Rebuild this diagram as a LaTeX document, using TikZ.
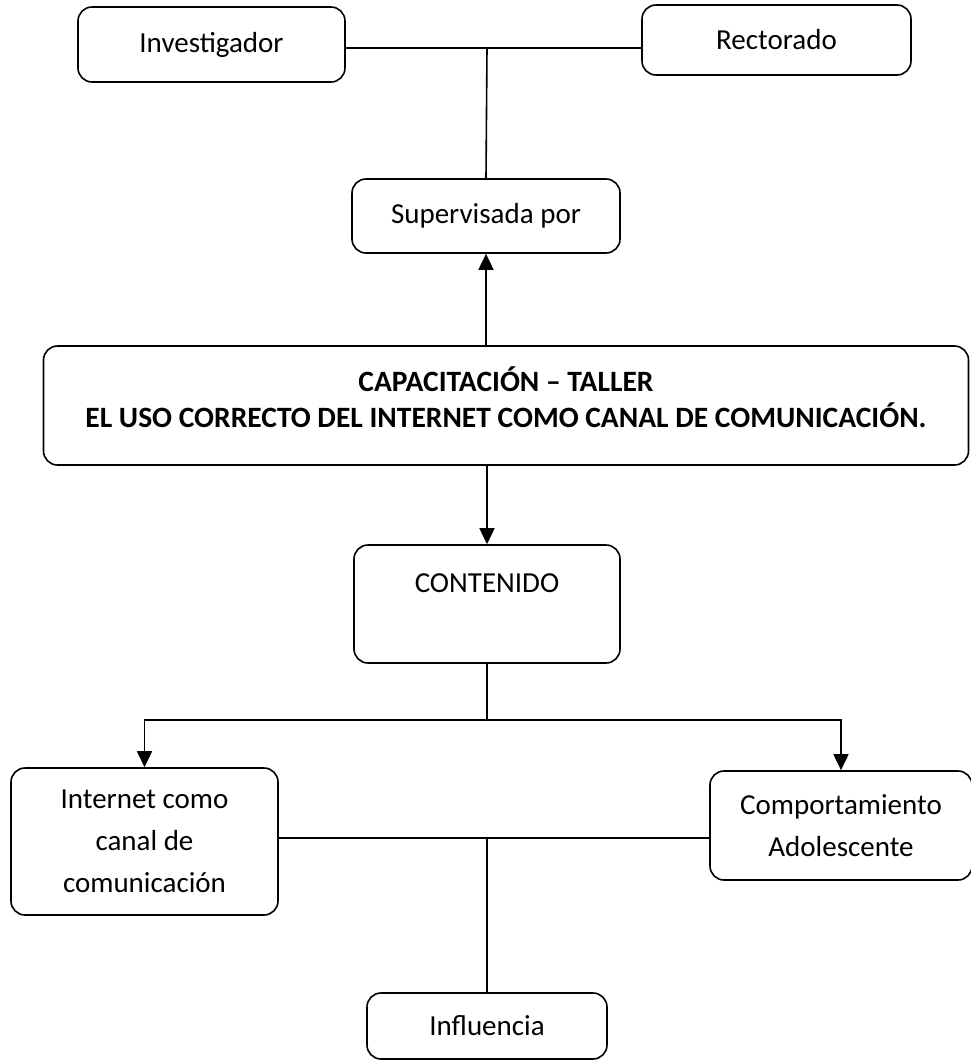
\documentclass[tikz,border=0pt]{standalone}
\usepackage{fontspec}
\setmainfont{Carlito}
\usetikzlibrary{arrows.meta}
\begin{document}
\begin{tikzpicture}[x=1pt,y=-1pt,
  box/.style={draw,line width=1.6pt,rounded corners=14pt,inner sep=0pt,align=center,font=\fontsize{29}{42}\selectfont},
  conn/.style={line width=1.6pt},
  arr/.style={conn,-{Triangle[length=16pt,width=15pt]}}]
\useasboundingbox (0,0) rectangle (971,1061);
\node[box,minimum width=267pt,minimum height=75pt] (inv) at (211.5,44.5) {Investigador};
\node[box,minimum width=269pt,minimum height=70pt] (rec) at (776.5,40) {Rectorado};
\node[box,minimum width=268pt,minimum height=74pt] (sup) at (486,216) {Supervisada por};
\node[box,minimum width=925pt,minimum height=119pt,font=\bfseries\fontsize{29.5}{36}\selectfont] (cap) at (506,405.5) {CAPACITACIÓN – TALLER\\EL USO CORRECTO DEL INTERNET COMO CANAL DE COMUNICACIÓN.\\[-20pt]\mbox{}};
\node[box,minimum width=266pt,minimum height=118pt,text height=20pt,text depth=44pt] (cont) at (487,604) {CONTENIDO};
\node[box,minimum width=267pt,minimum height=147pt] (inet) at (144.5,841.5) {Internet como\\canal de\\comunicación};
\node[box,minimum width=262pt,minimum height=109pt] (comp) at (841,825.5) {Comportamiento\\Adolescente};
\node[box,minimum width=240pt,minimum height=66pt] (infl) at (487,1026) {Influencia};
\coordinate (j1) at (487,48);
\coordinate (j2) at (487,720);
\coordinate (j3) at (487,838);
\draw[conn] (j1 -| inv.east) -- (j1 -| rec.west);
\draw[conn] (j1) -- (sup.north);
\draw[arr] (sup.south |- cap.north) -- (sup.south);
\draw[arr] (cont.north |- cap.south) -- (cont.north);
\draw[conn] (cont.south) -- (j2);
\draw[arr] (j2) -| (inet.north);
\draw[arr] (j2) -| (comp.north);
\draw[conn] (j3 -| inet.east) -- (j3 -| comp.west);
\draw[conn] (j3) -- (infl.north);
\end{tikzpicture}
\end{document}
